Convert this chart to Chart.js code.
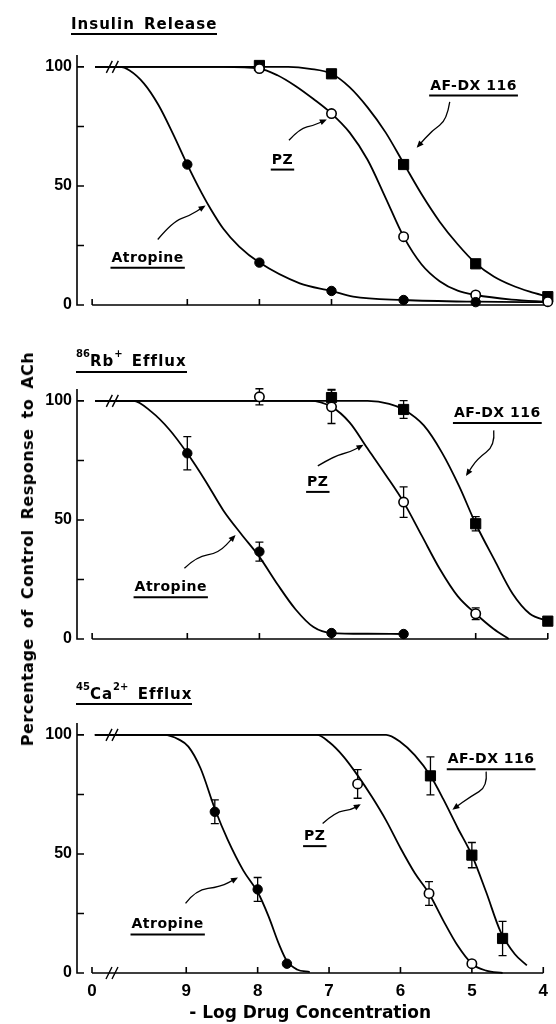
<!DOCTYPE html>
<html>
<head>
<meta charset="utf-8">
<script src="https://cdn.jsdelivr.net/npm/chart.js@4.4.1/dist/chart.umd.min.js"></script>
<style>
  body { margin: 0; background: #fff; width: 556px; height: 1024px; overflow: hidden; position: relative; font-family: 'DejaVu Sans', sans-serif; color: #000; }
  canvas { position: absolute; left: 0; }
  .title { position: absolute; z-index: 2; font-weight: bold; font-size: 15px; line-height: 18px; letter-spacing: 1px; word-spacing: 3px; border-bottom: 2px solid #000; white-space: nowrap; }
  .title sup { font-size: 10px; line-height: 0; vertical-align: 9px; letter-spacing: 0; }
  #ytitle { position: absolute; z-index: 2; left: 28px; top: 549px; transform: translate(-50%, -50%) rotate(-90deg); font-weight: bold; font-size: 16px; line-height: 16px; letter-spacing: 0.5px; word-spacing: 4px; white-space: nowrap; }
</style>
</head>
<body>
<div class="title" style="left:71px; top:15px">Insulin Release</div>
<div class="title" style="left:76px; top:352px; padding-bottom:1px"><sup>86</sup>Rb<sup>+</sup> Efflux</div>
<div class="title" style="left:76px; top:685px"><sup>45</sup>Ca<sup>2+</sup> Efflux</div>
<div id="ytitle">Percentage of Control Response to ACh</div>
<canvas id="ins" width="556" height="334" style="top:0"></canvas>
<canvas id="rb" width="556" height="334" style="top:334px"></canvas>
<canvas id="ca" width="556" height="356" style="top:668px"></canvas>
<script>
// axis ticks (x is -log M, drawn reversed; the "0" sits left of the break)
const xTickValues = [10.32, 9, 8, 7, 6, 5, 4];
const xTickLabels = ['0', '9', '8', '7', '6', '5', '4'];
const yTickValues = [0, 25, 50, 75, 100];
const yTickLabels = ['0', '', '50', '', '100'];
const xBreakAt = 10.04;

// Insulin release - measured points
const insAtropineX = [9, 8, 7, 6, 5];
const insAtropineY = [59, 17.8, 5.9, 2.1, 1.2];
const insPzX = [8, 7, 6, 5, 4];
const insPzY = [99.3, 80.4, 28.7, 4.2, 1.4];
const insAfdxX = [8, 7, 6, 5, 4];
const insAfdxY = [100.6, 97.1, 59, 17.3, 3.5];
// Insulin release - fitted curves
const insAtropineCurveX = [10.28, 9.94, 9.8, 9.6, 9.4, 9.2, 9, 8.8, 8.67, 8.5, 8.28, 8, 7.44, 7, 6.7, 6, 5, 4];
const insAtropineCurveY = [100, 100, 98.5, 93, 84, 72, 59, 47, 40, 32, 24.5, 17.8, 9.1, 5.9, 3.5, 2.1, 1.4, 1.2];
const insPzCurveX = [10.28, 8.5, 8, 7.75, 7.5, 7.25, 7, 6.75, 6.5, 6.25, 6, 5.75, 5.5, 5.25, 5, 4.5, 4];
const insPzCurveY = [100, 100, 99.3, 96.5, 92, 86.5, 80.4, 72.5, 61, 45, 28.7, 17, 10, 6, 4.2, 2.3, 1.4];
const insAfdxCurveX = [10.28, 7.6, 7.3, 7, 6.75, 6.5, 6.25, 6, 5.75, 5.5, 5.25, 5, 4.75, 4.5, 4.25, 4];
const insAfdxCurveY = [100, 100, 99.2, 97.1, 91.5, 83, 72.5, 59.5, 46.5, 35, 25.5, 17.5, 12, 8.3, 5.6, 3.5];

// 86Rb+ efflux
const rbAtropineX = [9, 8, 7, 6];
const rbAtropineY = [78, 36.7, 2.5, 2.1];
const rbAtropineErr = [7, 4, 0, 0];
const rbPzX = [8, 7, 6, 5];
const rbPzY = [101.7, 97.5, 57.5, 10.6];
const rbPzErr = [3.4, 7, 6.4, 2.5];
const rbAfdxX = [7, 6, 5, 4];
const rbAfdxY = [101.4, 96.4, 48.4, 7.5];
const rbAfdxErr = [3.4, 3.7, 3, 0];
const rbAtropineCurveX = [10.28, 9.75, 9.5, 9.25, 9, 8.75, 8.5, 8.25, 8, 7.75, 7.5, 7.25, 7, 6.5, 6];
const rbAtropineCurveY = [100, 100, 95.5, 88, 78, 66.5, 54, 44, 34.5, 23, 12.5, 5, 2.5, 2.2, 2.1];
const rbPzCurveX = [10.28, 7.3, 7, 6.75, 6.5, 6.25, 6, 5.75, 5.5, 5.25, 5, 4.75, 4.54];
const rbPzCurveY = [100, 100, 97.5, 91, 80, 69, 57.5, 43.5, 29.5, 18, 10.6, 4.2, 0];
const rbAfdxCurveX = [10.28, 6.5, 6.2, 6, 5.72, 5.47, 5.23, 5, 4.74, 4.49, 4.25, 4];
const rbAfdxCurveY = [100, 100, 98.8, 96.4, 89.7, 78.4, 64.2, 48.4, 33.2, 19.1, 10.6, 7.5];

// 45Ca2+ efflux
const caAtropineX = [8.6, 8, 7.59];
const caAtropineY = [67.7, 35.1, 3.9];
const caAtropineErr = [5, 5, 0];
const caPzX = [6.6, 5.6, 5];
const caPzY = [79.4, 33.4, 3.9];
const caPzErr = [6, 5, 0];
const caAfdxX = [5.58, 5, 4.57];
const caAfdxY = [82.8, 49.5, 14.5];
const caAfdxErr = [8, 5.3, 7.2];
const caAtropineCurveX = [10.28, 9.31, 9.1, 8.97, 8.8, 8.6, 8.42, 8.2, 8, 7.85, 7.7, 7.59, 7.45, 7.27];
const caAtropineCurveY = [100, 100, 98, 95.1, 86, 69, 56, 43, 34, 24, 12, 5, 1.5, 0.4];
const caPzCurveX = [10.28, 7.17, 7, 6.8, 6.6, 6.4, 6.2, 6, 5.8, 5.6, 5.4, 5.2, 5, 4.8, 4.57];
const caPzCurveY = [100, 100, 97, 91, 83, 74, 64, 52.5, 42, 33.4, 22, 11.5, 3.9, 1, 0];
const caAfdxCurveX = [10.28, 6.2, 6, 5.8, 5.58, 5.4, 5.2, 5, 4.8, 4.6, 4.4, 4.23];
const caAfdxCurveY = [100, 100, 97, 91.5, 82.8, 73, 61, 49.5, 34, 17.5, 8, 3.2];

// labels with their curly pointer arrows (data coordinates)
const insNotes = [
  { text: 'AF-DX 116', at: [5.03, 92.6], arrow: [[5.36, 85.3], [5.4, 77.6], [5.6, 73.4], [5.8, 66.7]] },
  { text: 'PZ', at: [7.68, 61.5], arrow: [[7.59, 69.2], [7.44, 74.1], [7.24, 75.5], [7.09, 77.6]] },
  { text: 'Atropine', at: [9.55, 20.3], arrow: [[9.41, 27.5], [9.2, 35], [8.97, 37.5], [8.77, 41.3]] }
];
const rbNotes = [
  { text: 'AF-DX 116', at: [4.7, 95.3], arrow: [[4.75, 87.6], [4.73, 81.2], [4.98, 75.6], [5.12, 69.2]] },
  { text: 'PZ', at: [7.19, 66.4], arrow: [[7.19, 72.7], [6.95, 77], [6.75, 78.4], [6.58, 81.2]] },
  { text: 'Atropine', at: [9.23, 22.2], arrow: [[9.04, 29.7], [8.87, 34.6], [8.57, 36], [8.35, 43.1]] }
];
const caNotes = [
  { text: 'AF-DX 116', at: [4.73, 90.2], arrow: [[4.8, 84.6], [4.78, 78.3], [5.02, 74.1], [5.25, 69.1]] },
  { text: 'PZ', at: [7.2, 57.9], arrow: [[7.09, 62.8], [6.9, 67.7], [6.7, 68.4], [6.58, 70.5]] },
  { text: 'Atropine', at: [9.26, 20.8], arrow: [[9.01, 29.2], [8.87, 34.8], [8.52, 36.2], [8.3, 39.7]] }
];

const INK = '#000';
const NUM_FONT = "'Liberation Sans', Arial, sans-serif";
const TXT_FONT = "'DejaVu Sans', sans-serif";

function pts(xs, ys) {
  return xs.map((x, i) => ({ x: x, y: ys[i] }));
}

function markers(xs, ys, style) {
  const open = style === 'open';
  return {
    type: 'scatter',
    data: pts(xs, ys),
    pointStyle: style === 'square' ? 'rect' : 'circle',
    pointRadius: style === 'square' ? 7.2 : 4.7,
    backgroundColor: open ? '#fff' : INK,
    borderColor: INK,
    borderWidth: open ? 1.6 : 1,
    clip: false,
    order: 0
  };
}

function curve(xs, ys) {
  return {
    type: 'line',
    data: pts(xs, ys),
    showLine: true,
    borderColor: INK,
    borderWidth: 1.8,
    pointRadius: 0,
    fill: false,
    clip: false,
    cubicInterpolationMode: 'monotone',
    order: 1
  };
}

function drawBreak(ctx, x, y) {
  ctx.beginPath();
  [-3, 3].forEach(dx => {
    ctx.moveTo(x + dx - 3, y + 6);
    ctx.lineTo(x + dx + 3, y - 6);
  });
  ctx.stroke();
}

function drawArrow(ctx, p) {
  ctx.beginPath();
  ctx.moveTo(p[0][0], p[0][1]);
  for (let i = 1; i < p.length - 1; i++) {
    const mx = (p[i][0] + p[i + 1][0]) / 2, my = (p[i][1] + p[i + 1][1]) / 2;
    ctx.quadraticCurveTo(p[i][0], p[i][1], mx, my);
  }
  const n = p.length;
  ctx.lineTo(p[n - 1][0], p[n - 1][1]);
  ctx.stroke();
  const a = Math.atan2(p[n - 1][1] - p[n - 2][1], p[n - 1][0] - p[n - 2][0]);
  const tx = p[n - 1][0] + 2 * Math.cos(a), ty = p[n - 1][1] + 2 * Math.sin(a);
  ctx.beginPath();
  ctx.moveTo(tx, ty);
  ctx.lineTo(tx - 7 * Math.cos(a) + 3 * Math.sin(a), ty - 7 * Math.sin(a) - 3 * Math.cos(a));
  ctx.lineTo(tx - 7 * Math.cos(a) - 3 * Math.sin(a), ty - 7 * Math.sin(a) + 3 * Math.cos(a));
  ctx.closePath();
  ctx.fill();
}

// draws the hand-made axes, error bars, breaks and annotations
function figureMarks(notes, errorSets, axisBreak) {
  return {
    id: 'figureMarks',
    beforeDatasetsDraw(chart) {
      const ctx = chart.ctx, xs = chart.scales.x, ys = chart.scales.y, ca = chart.chartArea;
      ctx.save();
      ctx.strokeStyle = INK;
      ctx.fillStyle = INK;
      ctx.lineWidth = 1.6;
      const y0 = ys.getPixelForValue(0);
      // y axis with inside ticks and a small foot
      ctx.beginPath();
      ctx.moveTo(ca.left, ca.top);
      ctx.lineTo(ca.left, y0);
      ctx.lineTo(ca.left + 6, y0);
      yTickValues.forEach(v => {
        const y = ys.getPixelForValue(v);
        ctx.moveTo(ca.left, y);
        ctx.lineTo(ca.left + 7, y);
      });
      // x axis starting at the "0" tick
      const xa = xs.getPixelForValue(xTickValues[0]);
      const xb = xs.getPixelForValue(xTickValues[xTickValues.length - 1]);
      ctx.moveTo(xa, y0);
      ctx.lineTo(xb, y0);
      xTickValues.forEach(v => {
        const x = xs.getPixelForValue(v);
        ctx.moveTo(x, y0);
        ctx.lineTo(x, y0 - 6);
      });
      ctx.stroke();
      if (axisBreak) {
        ctx.lineWidth = 1.4;
        drawBreak(ctx, xs.getPixelForValue(xBreakAt), y0);
      }
      // error bars
      ctx.lineWidth = 1.3;
      errorSets.forEach(s => {
        s.x.forEach((xv, i) => {
          const e = s.err[i];
          if (!e) return;
          const x = xs.getPixelForValue(xv);
          const yt = ys.getPixelForValue(s.y[i] + e), yb = ys.getPixelForValue(s.y[i] - e);
          ctx.beginPath();
          ctx.moveTo(x, yt); ctx.lineTo(x, yb);
          ctx.moveTo(x - 4, yt); ctx.lineTo(x + 4, yt);
          ctx.moveTo(x - 4, yb); ctx.lineTo(x + 4, yb);
          ctx.stroke();
        });
      });
      ctx.restore();
    },
    afterDatasetsDraw(chart) {
      const ctx = chart.ctx, xs = chart.scales.x, ys = chart.scales.y;
      ctx.save();
      ctx.strokeStyle = INK;
      ctx.fillStyle = INK;
      // break on the 100 % plateau
      ctx.lineWidth = 1.4;
      drawBreak(ctx, xs.getPixelForValue(xBreakAt), ys.getPixelForValue(100));
      // drug labels
      ctx.font = 'bold 14px ' + TXT_FONT;
      if ('letterSpacing' in ctx) ctx.letterSpacing = '0.5px';
      ctx.textAlign = 'center';
      ctx.textBaseline = 'alphabetic';
      notes.forEach(n => {
        const x = xs.getPixelForValue(n.at[0]), y = ys.getPixelForValue(n.at[1]);
        ctx.fillText(n.text, x, y + 5);
        const w = ctx.measureText(n.text).width;
        ctx.lineWidth = 2;
        ctx.beginPath();
        ctx.moveTo(x - w / 2 - 1, y + 11);
        ctx.lineTo(x + w / 2 + 1, y + 11);
        ctx.stroke();
        ctx.lineWidth = 1.3;
        drawArrow(ctx, n.arrow.map(p => [xs.getPixelForValue(p[0]), ys.getPixelForValue(p[1])]));
      });
      ctx.restore();
    }
  };
}

function makePanel(id, series, notes, last) {
  const datasets = [];
  const errorSets = [];
  series.forEach(s => {
    datasets.push(markers(s.x, s.y, s.style));
    datasets.push(curve(s.cx, s.cy));
    if (s.err) errorSets.push({ x: s.x, y: s.y, err: s.err });
  });
  return new Chart(document.getElementById(id), {
    type: 'scatter',
    data: { datasets: datasets },
    options: {
      responsive: false,
      animation: false,
      devicePixelRatio: 1,
      layout: { padding: { top: 55, right: 7, left: 0, bottom: 0 } },
      plugins: { legend: { display: false }, tooltip: { enabled: false } },
      scales: {
        x: {
          type: 'linear',
          min: 4,
          max: 10.53,
          reverse: true,
          grid: { display: false, drawTicks: false },
          border: { display: false },
          afterBuildTicks: s => { s.ticks = xTickValues.map(v => ({ value: v })); },
          afterFit: s => { s.height = last ? 51 : 29; },
          ticks: {
            display: last,
            padding: 8,
            color: INK,
            maxRotation: 0,
            autoSkip: false,
            font: { family: NUM_FONT, size: 17, weight: 'bold' },
            callback: (v, i) => xTickLabels[i]
          },
          title: {
            display: last,
            text: '- Log Drug Concentration',
            color: INK,
            padding: 0,
            font: { family: TXT_FONT, size: 17, weight: 'bold' }
          }
        },
        y: {
          min: 0,
          max: 105,
          grid: { display: false, drawTicks: false },
          border: { display: false },
          afterBuildTicks: s => { s.ticks = yTickValues.map(v => ({ value: v })); },
          afterFit: s => { s.width = 77; },
          ticks: {
            padding: 5,
            color: INK,
            autoSkip: false,
            font: { family: NUM_FONT, size: 16, weight: 'bold' },
            callback: (v, i) => yTickLabels[i]
          }
        }
      }
    },
    plugins: [figureMarks(notes, errorSets, last)]
  });
}

makePanel('ins', [
  { x: insAtropineX, y: insAtropineY, cx: insAtropineCurveX, cy: insAtropineCurveY, style: 'dot' },
  { x: insPzX, y: insPzY, cx: insPzCurveX, cy: insPzCurveY, style: 'open' },
  { x: insAfdxX, y: insAfdxY, cx: insAfdxCurveX, cy: insAfdxCurveY, style: 'square' }
], insNotes, false);

makePanel('rb', [
  { x: rbAtropineX, y: rbAtropineY, err: rbAtropineErr, cx: rbAtropineCurveX, cy: rbAtropineCurveY, style: 'dot' },
  { x: rbPzX, y: rbPzY, err: rbPzErr, cx: rbPzCurveX, cy: rbPzCurveY, style: 'open' },
  { x: rbAfdxX, y: rbAfdxY, err: rbAfdxErr, cx: rbAfdxCurveX, cy: rbAfdxCurveY, style: 'square' }
], rbNotes, false);

makePanel('ca', [
  { x: caAtropineX, y: caAtropineY, err: caAtropineErr, cx: caAtropineCurveX, cy: caAtropineCurveY, style: 'dot' },
  { x: caPzX, y: caPzY, err: caPzErr, cx: caPzCurveX, cy: caPzCurveY, style: 'open' },
  { x: caAfdxX, y: caAfdxY, err: caAfdxErr, cx: caAfdxCurveX, cy: caAfdxCurveY, style: 'square' }
], caNotes, true);
</script>
</body>
</html>
